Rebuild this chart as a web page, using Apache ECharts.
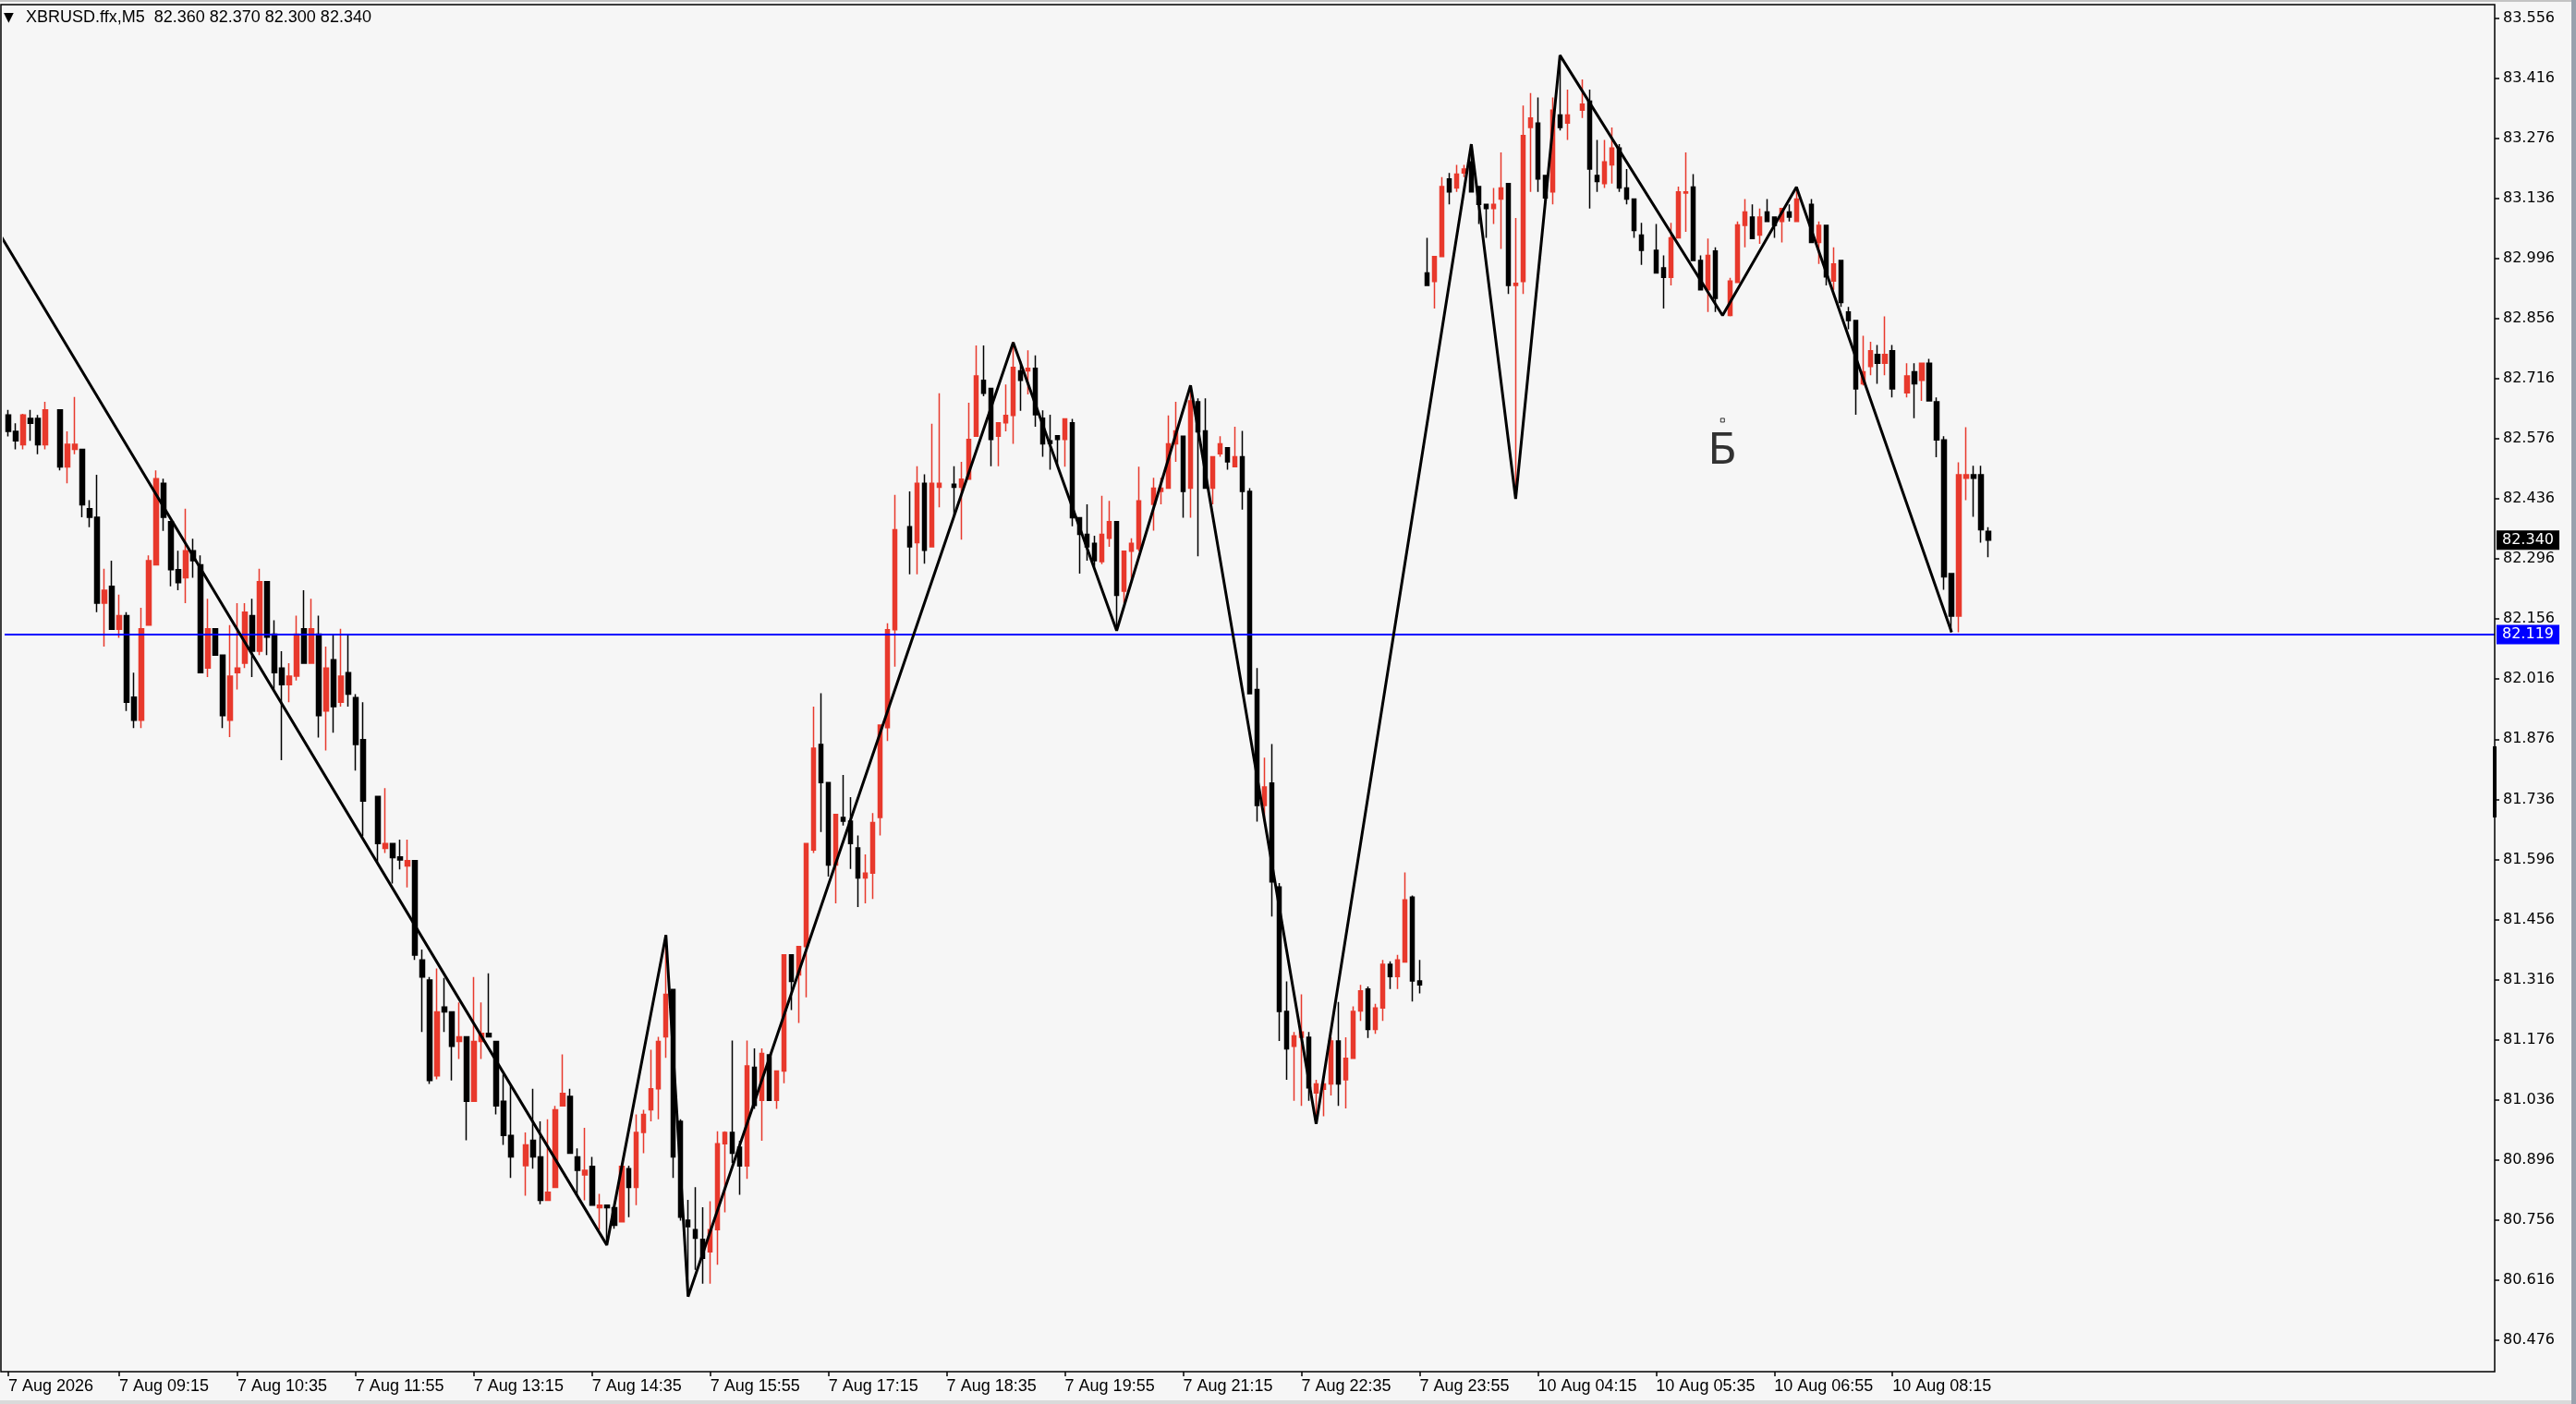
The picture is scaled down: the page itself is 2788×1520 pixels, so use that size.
<!DOCTYPE html>
<html>
<head>
<meta charset="utf-8">
<title>XBRUSD.ffx,M5</title>
<script src="https://cdn.jsdelivr.net/npm/echarts@6.0.0/dist/echarts.min.js"></script>
<style>
  html, body { margin: 0; padding: 0; background: #f6f6f6; }
  #canvas { width: 2788px; height: 1520px; }
</style>
</head>
<body>
<div id="canvas"></div>
<script>
// bars are [open, close, low, high], null = no visible bar
// Friday 7 Aug, first bar 08:00, M5
var friBars = [
  [82.631, 82.593, 82.581, 82.643], [82.593, 82.571, 82.551, 82.612], [82.562, 82.631, 82.551, 82.634],
  [82.623, 82.612, 82.571, 82.643], [82.623, 82.562, 82.540, 82.631], [82.562, 82.643, 82.551, 82.662],
  null, [82.643, 82.510, 82.502, 82.643], [82.510, 82.563, 82.472, 82.593],
  [82.551, 82.563, 82.540, 82.673], [82.551, 82.422, 82.393, 82.551], [82.413, 82.393, 82.370, 82.433],
  [82.393, 82.193, 82.172, 82.492], [82.193, 82.223, 82.092, 82.273], [82.232, 82.132, 82.132, 82.292],
  [82.132, 82.164, 82.112, 82.213], [82.164, 81.962, 81.942, 82.172], [81.974, 81.920, 81.902, 82.031],
  [81.920, 82.133, 81.902, 82.182], [82.142, 82.292, 82.142, 82.304], [82.282, 82.483, 82.282, 82.502],
  [82.472, 82.393, 82.361, 82.483], [82.383, 82.271, 82.232, 82.383], [82.271, 82.241, 82.223, 82.315],
  [82.252, 82.315, 82.193, 82.413], [82.315, 82.292, 82.252, 82.343], [82.282, 82.031, 82.031, 82.304],
  [82.042, 82.133, 82.021, 82.203], [82.133, 82.072, 82.072, 82.133], [82.072, 81.931, 81.902, 82.072],
  [81.920, 82.023, 81.881, 82.142], [82.031, 82.042, 81.992, 82.193], [82.053, 82.172, 82.042, 82.193],
  [82.164, 82.081, 82.021, 82.203], [82.081, 82.243, 82.072, 82.273], [82.243, 82.114, 82.072, 82.243],
  [82.121, 82.031, 81.992, 82.153], [82.042, 82.003, 81.827, 82.081], [82.003, 82.023, 81.962, 82.053],
  [82.023, 82.121, 82.013, 82.164], [82.133, 82.053, 82.053, 82.223], [82.053, 82.133, 82.053, 82.203],
  [82.121, 81.931, 81.880, 82.164], [81.942, 82.042, 81.850, 82.092], [82.061, 81.952, 81.891, 82.121],
  [81.962, 82.023, 81.952, 82.133], [82.031, 81.981, 81.952, 82.121], [81.973, 81.864, 81.803, 81.981],
  [81.875, 81.732, 81.650, 81.962], null, [81.743, 81.633, 81.589, 81.743],
  [81.622, 81.633, 81.611, 81.762], [81.633, 81.600, 81.540, 81.633], [81.602, 81.595, 81.573, 81.642],
  [81.581, 81.593, 81.531, 81.642], [81.593, 81.373, 81.362, 81.593], [81.362, 81.322, 81.194, 81.386],
  [81.315, 81.081, 81.073, 81.322], [81.092, 81.241, 81.084, 81.342], [81.252, 81.241, 81.194, 81.320],
  [81.241, 81.161, 81.081, 81.241], [81.172, 81.183, 81.131, 81.263], [81.183, 81.033, 80.942, 81.183],
  [81.033, 81.172, 81.033, 81.322], [81.172, 81.191, 81.131, 81.263], [81.191, 81.183, 81.183, 81.331],
  [81.172, 81.022, 81.002, 81.172], [81.033, 80.953, 80.931, 81.095], [80.953, 80.903, 80.854, 81.073],
  null, [80.883, 80.931, 80.813, 80.960], [80.942, 80.903, 80.876, 81.062],
  [80.903, 80.802, 80.793, 80.986], [80.802, 80.821, 80.802, 80.991], [80.832, 81.013, 80.832, 81.022],
  [81.022, 81.051, 81.022, 81.142], [81.044, 80.912, 80.912, 81.062], [80.903, 80.872, 80.813, 80.923],
  [80.861, 80.872, 80.802, 80.971], [80.881, 80.791, 80.791, 80.903], [80.785, 80.791, 80.733, 80.817],
  [80.791, 80.785, 80.698, 80.791], [80.785, 80.744, 80.736, 80.785], [80.752, 80.881, 80.752, 80.881],
  [80.876, 80.832, 80.763, 80.883], [80.832, 80.960, 80.791, 81.002], [80.960, 81.002, 80.912, 81.013],
  [81.013, 81.062, 80.986, 81.153], [81.062, 81.172, 80.991, 81.183], [81.183, 81.282, 81.134, 81.420],
  [81.293, 80.903, 80.854, 81.293], [80.986, 80.763, 80.755, 80.991], [80.756, 80.741, 80.578, 80.803],
  [80.734, 80.714, 80.640, 80.833], [80.711, 80.667, 80.608, 80.786], [80.682, 80.734, 80.608, 80.800],
  [80.734, 80.934, 80.652, 80.963], [80.934, 80.960, 80.774, 80.963], [80.960, 80.912, 80.889, 81.174],
  [80.926, 80.882, 80.815, 80.941], [80.882, 81.115, 80.852, 81.174], [81.112, 81.023, 81.015, 81.156],
  [81.035, 81.144, 80.941, 81.156], [81.141, 81.035, 81.035, 81.141], [81.035, 81.103, 81.015, 81.103],
  [81.103, 81.374, 81.075, 81.374], [81.374, 81.312, 81.245, 81.374], [81.327, 81.393, 81.215, 81.393],
  [81.393, 81.633, 81.275, 81.633], [81.618, 81.855, 81.611, 81.952], [81.864, 81.775, 81.660, 81.983],
  [81.775, 81.583, 81.556, 81.775], [81.583, 81.701, 81.494, 81.701], [81.694, 81.685, 81.675, 81.793],
  [81.685, 81.633, 81.574, 81.741], [81.623, 81.553, 81.485, 81.652], [81.553, 81.564, 81.494, 81.608],
  [81.564, 81.682, 81.504, 81.704], [81.694, 81.909, 81.652, 81.909], [81.903, 82.131, 81.872, 82.146],
  [82.131, 82.364, 82.045, 82.445], null, [82.371, 82.324, 82.260, 82.453],
  [82.334, 82.472, 82.260, 82.512], [82.472, 82.316, 82.285, 82.493], [82.324, 82.472, 82.324, 82.611],
  [82.463, 82.472, 82.416, 82.682], null, [82.470, 82.463, 82.393, 82.512],
  [82.463, 82.482, 82.341, 82.522], [82.482, 82.574, 82.482, 82.660], [82.582, 82.722, 82.582, 82.793],
  [82.712, 82.682, 82.675, 82.793], [82.693, 82.574, 82.512, 82.693], [82.582, 82.613, 82.512, 82.613],
  [82.613, 82.630, 82.593, 82.702], [82.630, 82.742, 82.564, 82.801], [82.734, 82.712, 82.641, 82.756],
  [82.734, 82.740, 82.679, 82.782], [82.740, 82.632, 82.604, 82.770], [82.624, 82.564, 82.534, 82.642],
  [82.571, 82.565, 82.504, 82.632], [82.583, 82.574, 82.513, 82.583], [82.574, 82.622, 82.511, 82.622],
  [82.613, 82.392, 82.372, 82.622], [82.392, 82.353, 82.262, 82.392], [82.353, 82.324, 82.292, 82.423],
  [82.332, 82.292, 82.278, 82.350], [82.290, 82.353, 82.284, 82.443], [82.344, 82.383, 82.324, 82.431],
  [82.383, 82.211, 82.129, 82.383], [82.221, 82.314, 82.193, 82.314], [82.314, 82.332, 82.242, 82.344],
  [82.320, 82.431, 82.314, 82.511], null, [82.423, 82.461, 82.362, 82.485],
  [82.453, 82.461, 82.423, 82.485], [82.461, 82.564, 82.461, 82.630], [82.564, 82.594, 82.522, 82.662],
  [82.582, 82.453, 82.392, 82.582], [82.461, 82.664, 82.392, 82.700], [82.662, 82.592, 82.302, 82.670],
  [82.594, 82.461, 82.461, 82.670], [82.461, 82.534, 82.423, 82.534], [82.541, 82.564, 82.534, 82.582],
  [82.555, 82.522, 82.504, 82.555], [82.511, 82.534, 82.511, 82.604], [82.534, 82.453, 82.411, 82.594],
  [82.453, 81.982, 81.982, 82.461], [81.992, 81.722, 81.684, 82.042], [81.722, 81.765, 81.684, 81.833],
  [81.774, 81.544, 81.463, 81.865], [81.532, 81.242, 81.173, 81.541], [81.242, 81.155, 81.083, 81.312],
  [81.161, 81.185, 81.034, 81.194], [81.182, 81.194, 81.022, 81.282], [81.182, 81.064, 81.034, 81.194],
  [81.052, 81.073, 80.980, 81.083], [81.061, 81.073, 80.998, 81.089], [81.073, 81.173, 81.046, 81.182],
  [81.173, 81.073, 81.022, 81.264], [81.083, 81.133, 81.016, 81.182], [81.133, 81.242, 81.133, 81.254],
  [81.243, 81.290, 81.220, 81.304], [81.294, 81.200, 81.180, 81.300], [81.200, 81.250, 81.190, 81.260],
  [81.250, 81.352, 81.220, 81.362], [81.352, 81.323, 81.294, 81.359], [81.323, 81.362, 81.294, 81.374],
  [81.357, 81.502, 81.357, 81.566], [81.508, 81.313, 81.265, 81.512], [81.313, 81.304, 81.284, 81.362]
];

// Monday 10 Aug, first bar 03:00
var monBars = [
  [82.962, 82.933, 82.933, 83.044], [82.942, 83.000, 82.879, 83.000], [83.000, 83.163, 83.000, 83.185],
  [83.181, 83.151, 83.122, 83.195], [83.160, 83.192, 83.151, 83.214], [83.195, 83.204, 83.185, 83.214],
  [83.221, 83.151, 83.151, 83.262], [83.163, 83.122, 83.076, 83.163], [83.122, 83.112, 83.044, 83.122],
  [83.112, 83.122, 83.076, 83.160], [83.134, 83.160, 83.018, 83.243], [83.170, 82.933, 82.913, 83.170],
  [82.933, 82.938, 82.436, 83.090], [82.942, 83.282, 82.913, 83.352], [83.301, 83.323, 83.151, 83.381],
  [83.311, 83.181, 83.151, 83.371], [83.189, 83.137, 83.131, 83.189], [83.151, 83.341, 83.122, 83.371],
  [83.330, 83.301, 83.294, 83.469], [83.311, 83.330, 83.272, 83.389], null,
  [83.341, 83.355, 83.323, 83.413], [83.362, 83.204, 83.112, 83.389], [83.189, 83.175, 83.151, 83.272],
  [83.170, 83.221, 83.160, 83.272], [83.214, 83.253, 83.170, 83.301], [83.253, 83.160, 83.151, 83.262],
  [83.160, 83.134, 83.122, 83.204], [83.134, 83.061, 83.044, 83.134], [83.050, 83.015, 82.981, 83.079],
  null, [83.015, 82.962, 82.962, 83.076], [82.974, 82.952, 82.879, 83.003],
  [82.952, 83.044, 82.933, 83.079], [83.044, 83.151, 83.044, 83.163], [83.148, 83.151, 83.058, 83.243],
  [83.162, 82.991, 82.991, 83.192], [82.991, 82.923, 82.923, 83.003], [82.923, 83.003, 82.871, 83.042],
  [83.013, 82.903, 82.871, 83.022], null, [82.863, 82.943, 82.861, 82.951],
  [82.940, 83.074, 82.940, 83.082], [83.073, 83.104, 83.022, 83.134], [83.092, 83.042, 83.042, 83.122],
  [83.050, 83.092, 83.030, 83.112], [83.104, 83.082, 83.082, 83.134], [83.092, 83.073, 83.044, 83.092],
  [83.082, 83.112, 83.033, 83.112], [83.104, 83.092, 83.082, 83.122], [83.082, 83.134, 83.082, 83.162],
  null, [83.122, 83.033, 83.033, 83.134], [83.033, 83.073, 82.983, 83.082],
  [83.073, 82.953, 82.933, 83.073], [82.943, 82.983, 82.923, 83.022], [82.991, 82.893, 82.883, 82.991],
  [82.871, 82.851, 82.831, 82.883], [82.851, 82.692, 82.632, 82.851], [82.704, 82.732, 82.700, 82.816],
  [82.744, 82.781, 82.724, 82.802], [82.772, 82.752, 82.704, 82.794], [82.752, 82.772, 82.724, 82.861],
  [82.781, 82.692, 82.672, 82.794], null, [82.683, 82.722, 82.672, 82.752],
  [82.732, 82.704, 82.624, 82.752], [82.712, 82.752, 82.664, 82.752], [82.752, 82.664, 82.664, 82.762],
  [82.662, 82.573, 82.533, 82.672], [82.573, 82.254, 82.224, 82.582], [82.262, 82.163, 82.125, 82.262],
  [82.163, 82.492, 82.125, 82.521], [82.484, 82.492, 82.433, 82.603], [82.492, 82.484, 82.394, 82.513],
  [82.492, 82.364, 82.334, 82.513], [82.360, 82.340, 82.300, 82.370]
];

// zigzag swing points [bar index, price]; the first one lies just left of the chart
var zigzag = [
  [-1.1, 83.051], [81, 80.698], [89, 81.420], [92, 80.578], [136, 82.800],
  [150, 82.129], [160, 82.700], [177, 80.980], [198, 83.262], [204, 82.436],
  [210, 83.469], [232, 82.863], [242, 83.162], [263, 82.125]
];

// time scale labels: bar index -> text
var xTickIdx = [0, 15, 31, 47, 63, 79, 95, 111, 127, 143, 159, 175, 191, 207, 223, 239, 255];
var xTickText = ['7 Aug 2026', '7 Aug 09:15', '7 Aug 10:35', '7 Aug 11:55', '7 Aug 13:15', '7 Aug 14:35',
  '7 Aug 15:55', '7 Aug 17:15', '7 Aug 18:35', '7 Aug 19:55', '7 Aug 21:15', '7 Aug 22:35',
  '7 Aug 23:55', '10 Aug 04:15', '10 Aug 05:35', '10 Aug 06:55', '10 Aug 08:15'];

// price scale
var yTicks = [80.476, 80.616, 80.756, 80.896, 81.036, 81.176, 81.316, 81.456, 81.596, 81.736, 81.876,
  82.016, 82.156, 82.296, 82.436, 82.576, 82.716, 82.856, 82.996, 83.136, 83.276, 83.416, 83.556];
var hLine = 82.119;
var textObj = { idx: 232, price: 82.619, text: 'Б' };

var SLOTS = 337;   // bar slots across the window (chart shift leaves the right part empty)
var UP = '#e8392c', DOWN = '#000000';

function drawChart() {
    var myChart = echarts.init(document.getElementById('canvas'));

    var bars = friBars.concat(monBars);
    var last = bars[bars.length - 1];
    var candleData = bars.map(function (b) { return b ? b : ['-', '-', '-', '-']; });
    var cats = [];
    for (var i = 0; i < SLOTS; i++) cats.push(i);
    var tickMap = {};
    xTickIdx.forEach(function (k, n) { tickMap[k] = xTickText[n]; });
    var isTick = function (index) { return tickMap[index] !== undefined; };

    var font = 'Liberation Sans';
    var header = 'XBRUSD.ffx,M5  ' + [last[0], last[3], last[2], last[1]].map(function (v) { return v.toFixed(3); }).join(' ');

    // price tag on the scale, same look for both levels
    function tag(bg) {
        return {
            show: true, position: 'end', distance: 2,
            color: '#fff', backgroundColor: bg, padding: [3, 6, 2, 6],
            fontFamily: 'DejaVu Sans', fontSize: 16
        };
    }

    var option = {
        animation: false,
        backgroundColor: '#f6f6f6',
        grid: { left: 5, right: 88, top: 5, bottom: 35, show: false },
        xAxis: [{
            type: 'category',
            data: cats,
            boundaryGap: true,
            axisLine: { show: false, onZero: false },
            axisTick: { show: true, interval: isTick, alignWithLabel: true, length: 5, lineStyle: { color: '#000', width: 1.5 } },
            axisLabel: {
                show: true, interval: isTick, align: 'left', margin: 7,
                color: '#000', fontFamily: font, fontSize: 18,
                formatter: function (v, index) { return tickMap[index] || ''; }
            },
            splitLine: { show: false }
        }, {
            // value twin of the category axis, for lines between bars
            type: 'value', min: -0.5, max: SLOTS - 0.5, show: false,
            axisLine: { onZero: false }
        }],
        yAxis: {
            type: 'value',
            position: 'right',
            min: 80.403,
            max: 83.587,
            scale: true,
            axisLine: { show: false, onZero: false },
            axisTick: { show: true, customValues: yTicks, length: 5, lineStyle: { color: '#000', width: 1.5 } },
            axisLabel: {
                show: true, customValues: yTicks, margin: 9,
                color: '#000', fontFamily: 'DejaVu Sans', fontSize: 16,
                formatter: function (v) { return v.toFixed(3); }
            },
            splitLine: { show: false }
        },
        series: [{
            type: 'candlestick',
            data: candleData,
            barWidth: 5,
            itemStyle: { color: UP, color0: DOWN, borderColor: UP, borderColor0: DOWN, borderWidth: 1.5 },
            markLine: {
                silent: true,
                symbol: ['none', 'none'],
                data: [{
                    yAxis: hLine,
                    lineStyle: { color: '#0000ff', width: 2, type: 'solid' },
                    label: Object.assign(tag('#0000ff'), { formatter: hLine.toFixed(3) })
                }, {
                    yAxis: last[1],
                    lineStyle: { color: 'rgba(0,0,0,0)', width: 1, type: 'solid' },
                    label: Object.assign(tag('#000000'), { formatter: last[1].toFixed(3) })
                }]
            }
        }, {
            type: 'line',
            xAxisIndex: 1,
            data: zigzag,
            symbol: 'none',
            clip: true,
            lineStyle: { color: '#000', width: 3 },
            z: 5
        }, {
            type: 'scatter',
            xAxisIndex: 1,
            data: [[textObj.idx, textObj.price]],
            symbol: 'rect',
            symbolSize: 4,
            itemStyle: { color: 'rgba(0,0,0,0)', borderColor: '#000', borderWidth: 1 },
            label: {
                show: true, position: 'bottom', distance: 10, formatter: textObj.text,
                color: '#000', fontFamily: 'DejaVu Sans', fontSize: 46
            },
            z: 6
        }],
        graphic: [
            // chart frame
            { type: 'rect', shape: { x: 1, y: 5, width: 2699, height: 1480 }, style: { fill: 'none', stroke: '#000', lineWidth: 1.5 }, z: 10 },
            // window edges
            { type: 'rect', shape: { x: 0, y: 0, width: 2788, height: 2 }, style: { fill: '#c4c4c4' }, z: 10 },
            { type: 'rect', shape: { x: 2783, y: 0, width: 5, height: 1520 }, style: { fill: '#98a1ad' }, z: 10 },
            { type: 'rect', shape: { x: 0, y: 1516, width: 2783, height: 4 }, style: { fill: '#dadada' }, z: 10 },
            // marker on the price scale edge
            { type: 'rect', shape: { x: 2698, y: 808, width: 4, height: 77 }, style: { fill: '#000' }, z: 10 },
            // header
            { type: 'text', left: 4, top: 12, style: { text: '▼', fill: '#000', font: '14px "DejaVu Sans"' }, z: 10 },
            { type: 'text', left: 28, top: 10, style: { text: header, fill: '#000', font: '18px "Liberation Sans"' }, z: 10 }
        ]
    };

    myChart.setOption(option);
}

drawChart();
</script>
</body>
</html>
